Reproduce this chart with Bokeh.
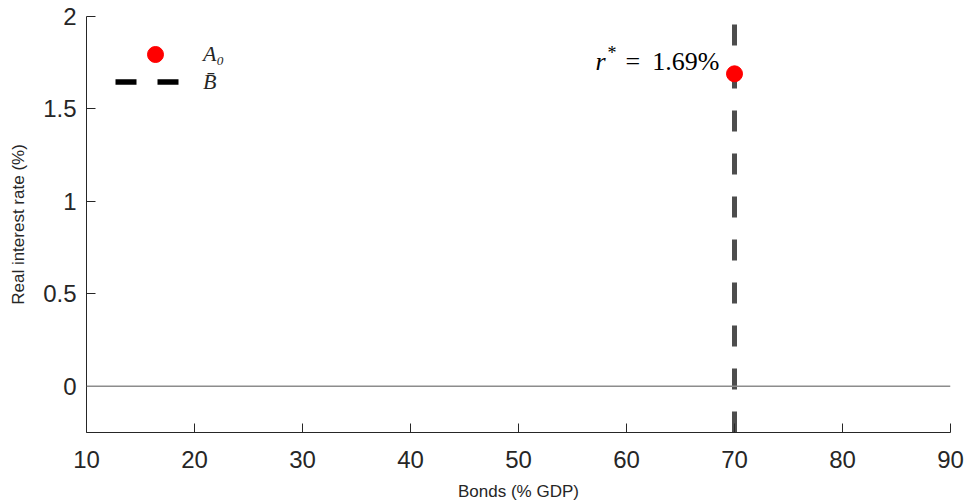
from bokeh.plotting import figure
from bokeh.models import (Range1d, Span, Legend, LegendItem, Label,
                          FixedTicker, ColumnDataSource)
from bokeh.embed import file_html
from bokeh.resources import INLINE

# ---- data -------------------------------------------------------------
x_lim = (10, 90)
y_lim = (-0.25, 2)
x_ticks = [10, 20, 30, 40, 50, 60, 70, 80, 90]
y_ticks = [0, 0.5, 1, 1.5, 2]
y_tick_labels = ["0", "0.5", "1", "1.5", "2"]

b_bar = 70        # bond supply (% GDP)
r_star = 1.69     # equilibrium real rate (%)

INK = "#262626"
SANS = "Liberation Sans"
SERIF = "Liberation Serif"

p = figure(width=967, height=504, output_backend="svg", toolbar_location=None,
           x_range=Range1d(*x_lim), y_range=Range1d(*y_lim),
           min_border_left=86, min_border_right=17,
           min_border_top=16, min_border_bottom=72)
p.outline_line_color = None
p.grid.visible = False
p.background_fill_color = "white"

for ax in (p.xaxis[0], p.yaxis[0]):
    ax.axis_line_color = INK
    ax.axis_line_width = 1
    ax.major_tick_line_color = INK
    ax.major_tick_in = 9
    ax.major_tick_out = 0
    ax.minor_tick_line_color = None
    ax.major_label_text_font = SANS
    ax.major_label_text_font_size = "24px"
    ax.major_label_text_color = INK
    ax.axis_label_text_font = SANS
    ax.axis_label_text_font_size = "17px"
    ax.axis_label_text_color = INK
    ax.axis_label_text_font_style = "normal"

p.xaxis.ticker = FixedTicker(ticks=x_ticks)
p.yaxis.ticker = FixedTicker(ticks=y_ticks)
p.yaxis.major_label_overrides = {t: s for t, s in zip(y_ticks, y_tick_labels)}
p.xaxis.axis_label = "Bonds (% GDP)"
p.yaxis.axis_label = "Real interest rate (%)"
p.xaxis.major_label_standoff = 18
p.yaxis.major_label_standoff = 10
p.xaxis.axis_label_standoff = 11
p.yaxis.axis_label_standoff = 12

# zero line
p.add_layout(Span(location=0, dimension="width", line_color="#8c8c8c",
                  line_width=1.5))

# vertical bond-supply line
supply_src = ColumnDataSource(dict(x=[b_bar, b_bar], y=list(y_lim)))
p.line("x", "y", source=supply_src, line_color="#4d4d4d", line_width=5,
       line_dash="21 22")

# equilibrium point
eq_src = ColumnDataSource(dict(x=[b_bar], y=[r_star]))
dot = p.scatter("x", "y", source=eq_src, size=16, fill_color="#ff0000",
                line_color="#ff0000")

# legend swatch for the supply line (black, as in the key)
nan = float("nan")
key_line = p.line(x=[nan], y=[nan], line_color="black", line_width=5.5,
                  line_dash="21 21")

key_style = dict(margin=0, padding=0, spacing=0, border_line_alpha=0,
                 background_fill_alpha=0, label_text_font=SERIF,
                 label_text_font_style="italic", label_text_font_size="22px",
                 label_text_color=INK, label_height=27)

key_dot = Legend(items=[LegendItem(label="A\u2080", renderers=[dot])],
                 location=(49, 358), glyph_width=40, glyph_height=40,
                 label_standoff=28, **key_style)
key_sup = Legend(items=[LegendItem(label="B\u0304", renderers=[key_line])],
                 location=(29, 337), glyph_width=65, glyph_height=27,
                 label_standoff=23, **key_style)
p.add_layout(key_dot, "center")
p.add_layout(key_sup, "center")

# r* annotation
anno = dict(x=b_bar, y=r_star, y_offset=12, text_baseline="alphabetic",
            text_font=SERIF, text_font_size="26px", text_color="black")
p.add_layout(Label(text=f"{r_star:.2f}%", x_offset=-15, text_align="right",
                   **anno))
p.add_layout(Label(text="=", x_offset=-109, text_align="left", **anno))
p.add_layout(Label(text="r", x_offset=-139, text_align="left",
                   text_font_style="italic", **anno))
p.add_layout(Label(x=b_bar, y=r_star, x_offset=-127, y_offset=21,
                   text="*", text_align="left", text_baseline="alphabetic",
                   text_font=SERIF, text_font_size="18px",
                   text_color="black"))

open("out.html", "w").write(file_html(p, INLINE))
